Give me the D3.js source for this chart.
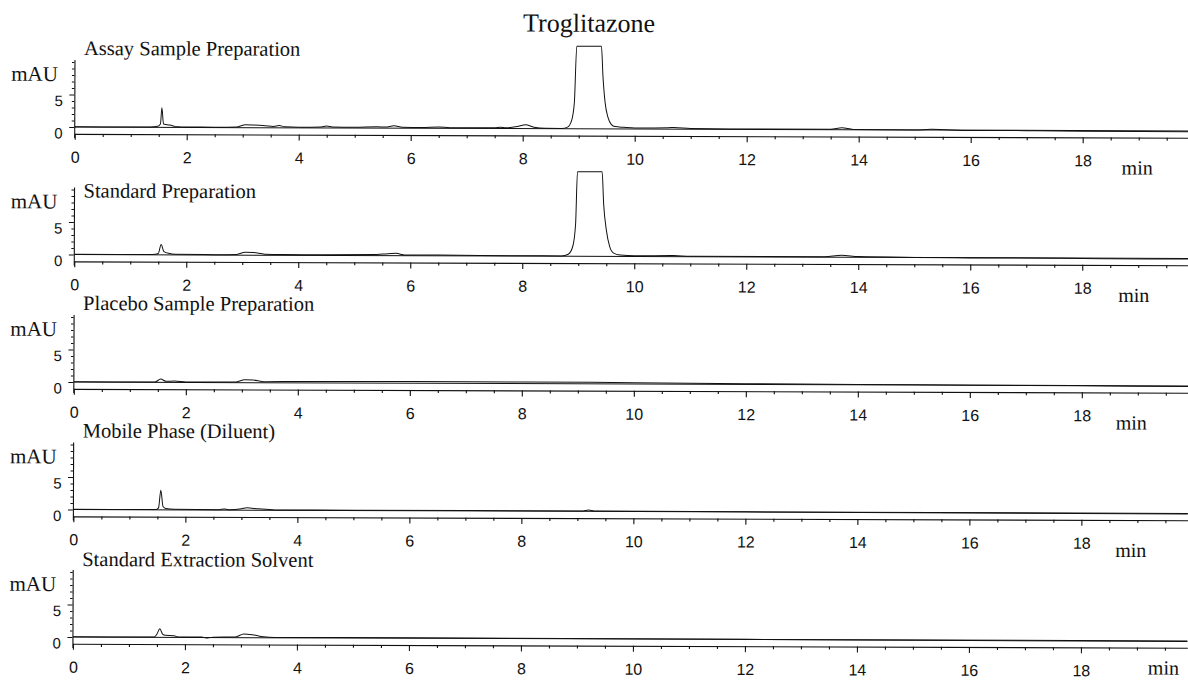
<!DOCTYPE html>
<html>
<head>
<meta charset="utf-8">
<script src="https://cdn.jsdelivr.net/npm/d3@7"></script>
<style>
  body { margin: 0; background: #fff; }
  svg { display: block; }
  .serif { font-family: "Liberation Serif", "Times New Roman", serif; fill: #111; }
  .axis text { font-family: "Liberation Sans", Arial, sans-serif; font-size: 16px; fill: #111; }
  .axis path, .axis line { stroke: #111; stroke-width: 1.1; }
</style>
</head>
<body>
<svg id="chart"></svg>
<script>
// chromatograms as [minutes, mAU]
const TITLE = 'Troglitazone';
const PANEL_NAMES = [
  'Assay Sample Preparation',
  'Standard Preparation',
  'Placebo Sample Preparation',
  'Mobile Phase (Diluent)',
  'Standard Extraction Solvent'
];
const X_TICKS = [0, 2, 4, 6, 8, 10, 12, 14, 16, 18];
const Y_TICKS = [0, 5];

const ASSAY = [
  [0, 0.02], [1.0, 0.02], [1.35, 0.05], [1.48, 0.15], [1.53, 0.5], [1.555, 3.0], [1.585, 0.5],
  [1.62, 0.45], [1.7, 0.35], [1.8, 0.15], [2.0, 0.05], [2.5, 0.05], [2.9, 0.1], [3.05, 0.45],
  [3.2, 0.4], [3.4, 0.3], [3.55, 0.2], [3.65, 0.35], [3.75, 0.15], [4.0, 0.1], [4.4, 0.15],
  [4.5, 0.3], [4.6, 0.15], [5.0, 0.1], [5.4, 0.2], [5.55, 0.15], [5.7, 0.35], [5.85, 0.15],
  [6.2, 0.1], [6.5, 0.2], [6.7, 0.1], [7.5, 0.1], [7.6, 0.2], [7.7, 0.1], [7.9, 0.3],
  [8.05, 0.6], [8.2, 0.2], [8.4, 0.05], [8.7, 0.05], [8.8, 0.25], [8.87, 1.2], [8.92, 4],
  [8.96, 12.7], [9.4, 12.7], [9.43, 8], [9.47, 4], [9.52, 1.8], [9.58, 0.7], [9.65, 0.35],
  [9.8, 0.25], [10, 0.15], [10.6, 0.2], [10.7, 0.25], [11, 0.1], [12, 0.05], [13.5, 0.05],
  [13.7, 0.3], [13.9, 0.05], [15, 0], [15.3, 0.1], [16, -0.05], [17, -0.05], [18, -0.1], [19.9, -0.15]
];
const STANDARD = [
  [0, 0.02], [1.4, 0.05], [1.5, 0.2], [1.55, 1.6], [1.6, 0.5], [1.7, 0.2], [1.8, 0.1],
  [2.5, 0.05], [2.9, 0.1], [3.05, 0.45], [3.2, 0.4], [3.4, 0.15], [3.7, 0.1], [4.5, 0.1],
  [5.4, 0.15], [5.6, 0.3], [5.75, 0.35], [5.9, 0.1], [6.5, 0.1], [8.0, 0.05], [8.7, 0.05],
  [8.82, 0.3], [8.9, 1.5], [8.95, 5], [8.98, 13], [9.42, 13], [9.45, 8], [9.5, 4], [9.56, 1.5],
  [9.63, 0.5], [9.75, 0.2], [10, 0.1], [10.7, 0.15], [11, 0.05], [13.4, 0.05], [13.7, 0.3],
  [14.0, 0.1], [15, 0], [16, -0.05], [17.5, -0.05], [18.5, -0.1], [19.9, -0.1]
];
const PLACEBO = [
  [0, 0.02], [1.45, 0.05], [1.55, 0.5], [1.65, 0.15], [1.8, 0.2], [2.0, 0.05], [2.9, 0.1],
  [3.05, 0.45], [3.2, 0.4], [3.4, 0.15], [4, 0.2], [6, 0.25], [8, 0.25], [10, 0.2], [12, 0.1],
  [14, 0.05], [16, 0], [18, -0.05], [19.9, -0.1]
];
const MOBILE = [
  [0, 0.02], [1.48, 0.05], [1.52, 0.3], [1.56, 3.0], [1.6, 0.5], [1.65, 0.2], [1.8, 0.1],
  [2.6, 0.05], [2.7, 0.15], [2.8, 0.05], [3.0, 0.2], [3.1, 0.35], [3.3, 0.2], [3.6, 0.05],
  [5, 0.05], [9.1, 0.05], [9.2, 0.2], [9.3, 0.05], [12, 0], [16, -0.05], [19.9, -0.1]
];
const EXTRACTION = [
  [0, 0.02], [1.45, 0.05], [1.5, 0.5], [1.55, 1.3], [1.6, 0.5], [1.65, 0.3], [1.8, 0.25],
  [1.9, 0.05], [2.3, 0.05], [2.4, -0.1], [2.5, 0.05], [2.9, 0.1], [3.05, 0.55], [3.2, 0.45],
  [3.4, 0.15], [3.6, 0.05], [6, 0.05], [12, 0], [16, -0.05], [19.9, -0.1]
];
const TRACES = [ASSAY, STANDARD, PLACEBO, MOBILE, EXTRACTION];

// layout
const WIDTH = 1188, HEIGHT = 680;
const ZERO_TOP = 127, PANEL_STEP = 127.5, PX_PER_MAU = 6.5;
const TITLE_DY = [72, 57, 72, 72, 71];
const MIN_X = [1121, 1118, 1116, 1116, 1149];
const MIN_DY = [37, 37, 37, 37, 27];

const svg = d3.select('#chart').attr('width', WIDTH).attr('height', HEIGHT);

// the scan is tilted a little
const root = svg.append('g').attr('transform', 'rotate(0.2, 74, 340)');

root.append('text')
  .attr('class', 'serif')
  .attr('x', 588).attr('y', 30)
  .attr('text-anchor', 'middle')
  .style('font-size', '26px')
  .text(TITLE);

const x = d3.scaleLinear().domain([0, 19.9]).range([74, 74 + 19.9 * 56]);
const minorX = d3.range(0.5, 19.9, 0.5).filter(d => d % 2 !== 0);

TRACES.forEach((trace, i) => {
  const y0 = ZERO_TOP + i * PANEL_STEP;
  const y = d3.scaleLinear().domain([-1.6, 10.4])
    .range([y0 + 1.6 * PX_PER_MAU, y0 - 10.4 * PX_PER_MAU]);
  const axisY = y(-1.05);
  const g = root.append('g');

  // x axis: minor then major ticks
  g.append('g').attr('class', 'axis')
    .attr('transform', `translate(0,${axisY})`)
    .call(d3.axisBottom(x).tickValues(minorX).tickSize(3).tickSizeOuter(0).tickFormat(''));
  g.append('g').attr('class', 'axis')
    .attr('transform', `translate(0,${axisY})`)
    .call(d3.axisBottom(x).tickValues(X_TICKS).tickSize(6).tickSizeOuter(0).tickPadding(11.6))
    .call(a => a.select('.domain').remove());

  // y axis
  g.append('g').attr('class', 'axis')
    .attr('transform', `translate(${x(0) - 0.5},0)`)
    .call(d3.axisLeft(y).tickValues(d3.range(1, 11).filter(d => d !== 5)).tickSize(2.5).tickSizeOuter(0).tickFormat(''));
  g.append('g').attr('class', 'axis')
    .attr('transform', `translate(${x(0) - 0.5},0)`)
    .call(d3.axisLeft(y).tickValues(Y_TICKS).tickSize(5).tickPadding(6.5))
    .call(a => a.select('.domain').remove())
    .call(a => a.selectAll('text').attr('dy', '0.74em').style('font-size', '15px'));

  // zero baseline
  g.append('line')
    .attr('x1', x(0)).attr('x2', x(19.9))
    .attr('y1', y(0)).attr('y2', y(0))
    .attr('stroke', '#111').attr('stroke-width', 1);

  // signal
  g.append('path')
    .datum(trace)
    .attr('fill', 'none')
    .attr('stroke', '#111')
    .attr('stroke-width', 1)
    .attr('d', d3.line().x(d => x(d[0])).y(d => y(d[1])).curve(d3.curveMonotoneX));

  g.append('text').attr('class', 'serif')
    .attr('x', 83).attr('y', y0 - TITLE_DY[i])
    .style('font-size', '20.5px')
    .text(PANEL_NAMES[i]);

  g.append('text').attr('class', 'serif')
    .attr('x', 57).attr('y', y0 - 46)
    .attr('text-anchor', 'end')
    .style('font-size', '21px')
    .text('mAU');

  g.append('text').attr('class', 'serif')
    .attr('x', MIN_X[i]).attr('y', axisY + MIN_DY[i])
    .style('font-size', '20px')
    .text('min');
});
</script>
</body>
</html>
